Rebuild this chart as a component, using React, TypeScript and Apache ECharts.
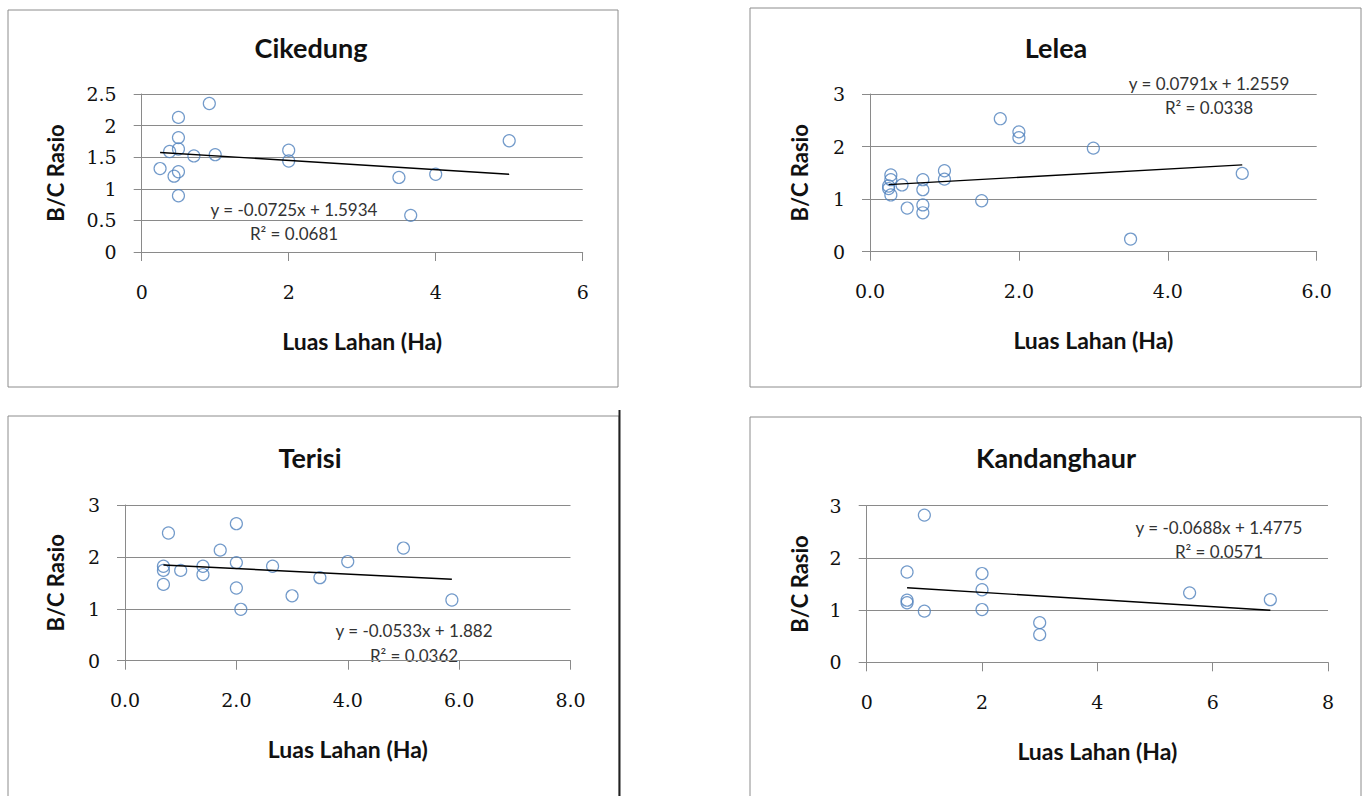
import React, { useEffect, useRef } from "react";
import * as echarts from "echarts";

// ---- Data ----
const cikedungX = [0.25, 0.38, 0.44, 0.5, 0.5, 0.5, 0.5, 0.5, 0.71, 0.92, 1.0, 2.0, 2.0, 3.5, 3.66, 4.0, 5.0];
const cikedungY = [1.32, 1.59, 1.2, 2.13, 1.81, 1.63, 1.27, 0.89, 1.52, 2.35, 1.54, 1.61, 1.44, 1.18, 0.58, 1.23, 1.76];

const leleaX = [0.28, 0.28, 0.25, 0.25, 0.28, 0.43, 0.5, 0.71, 0.71, 0.71, 0.71, 1.0, 1.0, 1.5, 1.75, 2.0, 2.0, 3.0, 3.5, 5.0];
const leleaY = [1.46, 1.37, 1.25, 1.2, 1.08, 1.27, 0.83, 1.37, 1.18, 0.89, 0.74, 1.54, 1.38, 0.97, 2.53, 2.28, 2.17, 1.97, 0.24, 1.49];

const terisiX = [0.69, 0.69, 0.69, 0.78, 1.0, 1.4, 1.4, 1.71, 2.0, 2.0, 2.0, 2.08, 2.65, 3.0, 3.5, 4.0, 5.0, 5.87];
const terisiY = [1.47, 1.82, 1.74, 2.46, 1.74, 1.82, 1.66, 2.13, 2.64, 1.89, 1.4, 0.99, 1.82, 1.25, 1.6, 1.91, 2.17, 1.17];

const kandangX = [0.7, 0.7, 0.7, 1.0, 1.0, 2.0, 2.0, 2.0, 3.0, 3.0, 5.6, 7.0];
const kandangY = [1.73, 1.19, 1.14, 2.82, 0.98, 1.7, 1.39, 1.01, 0.76, 0.53, 1.33, 1.2];

const titles = ["Cikedung", "Lelea", "Terisi", "Kandanghaur"];
const slopes = [-0.0725, 0.0791, -0.0533, -0.0688];
const intercepts = [1.5934, 1.2559, 1.882, 1.4775];
const equations = ["y = -0.0725x + 1.5934", "y = 0.0791x + 1.2559", "y = -0.0533x + 1.882", "y = -0.0688x + 1.4775"];
const rSquared = ["R² = 0.0681", "R² = 0.0338", "R² = 0.0362", "R² = 0.0571"];
const xMaxes = [6, 6, 8, 8];
const yMaxes = [2.5, 3, 3, 3];
const yIntervals = [0.5, 1, 1, 1];
const xDecimals = [0, 1, 1, 0];
const xAxisName = "Luas Lahan (Ha)";
const yAxisName = "B/C Rasio";

const seriesX = [cikedungX, leleaX, terisiX, kandangX];
const seriesY = [cikedungY, leleaY, terisiY, kandangY];

// ---- Layout ----
const W = 1365;
const H = 796;
const grids = [
  { left: 141.7, right: W - 582.7, top: 94, bottom: H - 252 },
  { left: 870, right: W - 1316.7, top: 94, bottom: H - 251.7 },
  { left: 125, right: W - 570.5, top: 505, bottom: H - 660.7 },
  { left: 866.7, right: W - 1328, top: 505.7, bottom: H - 662.3 },
];
const titlePos = [
  [311, 47],
  [1056, 47],
  [310, 457],
  [1056, 457],
];
const eqPos = [
  [294, 209, 233],
  [1209, 83, 107],
  [414, 630, 655],
  [1219, 527, 551],
];
const yNameGaps = [75, 60, 59, 56];

const gridColor = "#8a8a8a";
const markerColor = "#4F81BD";
const textColor = "#111";
const serif = "DejaVu Serif";
const sans = "Lato";

export default function App() {
  const ref = useRef<HTMLDivElement>(null);

  useEffect(() => {
    if (!ref.current) return;
    const chart = echarts.init(ref.current, null, { renderer: "svg" });

    const xAxis = grids.map((_, i) => ({
      gridIndex: i,
      type: "value",
      min: 0,
      max: xMaxes[i],
      interval: 2,
      axisLine: { show: true, onZero: false, lineStyle: { color: gridColor, width: 1 } },
      axisTick: { show: true, length: 9, lineStyle: { color: gridColor } },
      splitLine: { show: false },
      axisLabel: {
        margin: 30,
        fontFamily: serif,
        fontSize: 19,
        color: textColor,
        formatter: (v: number) => v.toFixed(xDecimals[i]),
      },
      name: xAxisName,
      nameLocation: "middle",
      nameGap: 77,
      nameTextStyle: { fontFamily: sans, fontWeight: "bold", fontSize: 23, color: textColor },
    }));

    const yAxis = grids.map((_, i) => ({
      gridIndex: i,
      type: "value",
      min: 0,
      max: yMaxes[i],
      interval: yIntervals[i],
      axisLine: { show: true, lineStyle: { color: gridColor, width: 1 } },
      axisTick: { show: true, length: 8, lineStyle: { color: gridColor } },
      splitLine: { show: true, lineStyle: { color: gridColor, width: 1 } },
      axisLabel: {
        margin: 25,
        fontFamily: serif,
        fontSize: 19,
        color: textColor,
      },
      name: yAxisName,
      nameLocation: "middle",
      nameGap: yNameGaps[i],
      nameTextStyle: { fontFamily: sans, fontWeight: "bold", fontSize: 22, color: textColor },
    }));

    const series: any[] = [];
    seriesX.forEach((xs, i) => {
      series.push({
        type: "scatter",
        xAxisIndex: i,
        yAxisIndex: i,
        symbol: "circle",
        symbolSize: 12,
        itemStyle: { color: "rgba(255,255,255,0)", borderColor: markerColor, borderWidth: 1.2 },
        data: xs.map((x, k) => [x, seriesY[i][k]]),
        z: 2,
      });
      const x0 = Math.min(...xs);
      const x1 = Math.max(...xs);
      series.push({
        type: "line",
        xAxisIndex: i,
        yAxisIndex: i,
        showSymbol: false,
        symbol: "none",
        lineStyle: { color: "#000", width: 1.4 },
        data: [
          [x0, slopes[i] * x0 + intercepts[i]],
          [x1, slopes[i] * x1 + intercepts[i]],
        ],
        z: 3,
      });
    });

    const graphic: any[] = [
      { type: "rect", shape: { x: 8, y: 10, width: 610, height: 377 }, style: { fill: "none", stroke: "#8c8c8c", lineWidth: 1 } },
      { type: "rect", shape: { x: 750, y: 8, width: 611, height: 379 }, style: { fill: "none", stroke: "#8c8c8c", lineWidth: 1 } },
      { type: "rect", shape: { x: 8, y: 416, width: 611, height: 420 }, style: { fill: "none", stroke: "#8c8c8c", lineWidth: 1 } },
      { type: "rect", shape: { x: 750, y: 417, width: 611, height: 420 }, style: { fill: "none", stroke: "#8c8c8c", lineWidth: 1 } },
      { type: "line", shape: { x1: 619.5, y1: 410, x2: 619.5, y2: 796 }, style: { stroke: "#222", lineWidth: 2 } },
    ];
    eqPos.forEach((p, i) => {
      graphic.push({
        type: "text",
        x: p[0],
        y: p[1],
        style: { text: equations[i], align: "center", verticalAlign: "middle", fontFamily: sans, fontSize: 17, fill: "#333" },
      });
      graphic.push({
        type: "text",
        x: p[0],
        y: p[2],
        style: { text: rSquared[i], align: "center", verticalAlign: "middle", fontFamily: sans, fontSize: 17, fill: "#333" },
      });
    });

    chart.setOption({
      animation: false,
      backgroundColor: "#fff",
      title: titles.map((t, i) => ({
        text: t,
        left: titlePos[i][0],
        top: titlePos[i][1],
        textAlign: "center",
        textVerticalAlign: "middle",
        padding: 0,
        textStyle: { fontFamily: sans, fontWeight: "bold", fontSize: 27, color: textColor },
      })),
      grid: grids.map((g) => ({ ...g, containLabel: false })),
      xAxis,
      yAxis,
      series,
      graphic,
    });

    return () => chart.dispose();
  }, []);

  return <div ref={ref} style={{ position: "absolute", left: 0, top: 0, width: W, height: H }} />;
}
